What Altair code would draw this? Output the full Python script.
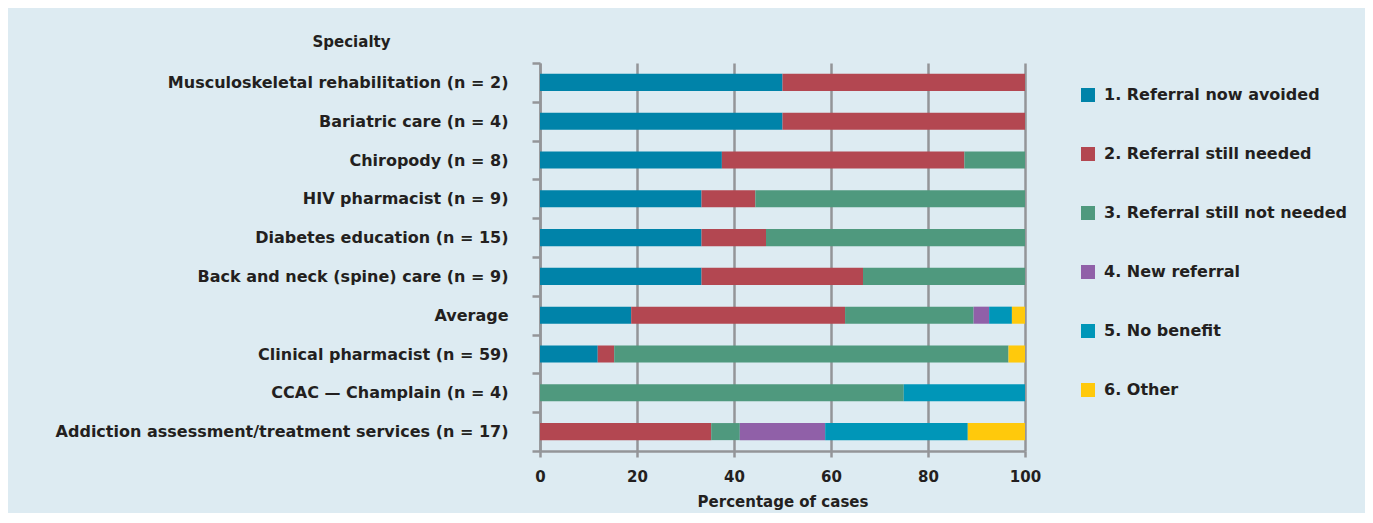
import altair as alt
import pandas as pd

specialties = [
    "Musculoskeletal rehabilitation (n = 2)",
    "Bariatric care (n = 4)",
    "Chiropody (n = 8)",
    "HIV pharmacist (n = 9)",
    "Diabetes education (n = 15)",
    "Back and neck (spine) care (n = 9)",
    "Average",
    "Clinical pharmacist (n = 59)",
    "CCAC \u2014 Champlain (n = 4)",
    "Addiction assessment/treatment services (n = 17)",
]
outcomes = [
    "1. Referral now avoided",
    "2. Referral still needed",
    "3. Referral still not needed",
    "4. New referral",
    "5. No benefit",
    "6. Other",
]
colors = ["#0083a9", "#b34751", "#4f997e", "#9060a8", "#0096b8", "#ffc90c"]

referral_avoided = [50, 50, 37.5, 33.3, 33.3, 33.3, 18.8, 11.9, 0, 0]
still_needed = [50, 50, 50, 11.1, 13.3, 33.3, 44.1, 3.4, 0, 35.3]
still_not_needed = [0, 0, 12.5, 55.6, 53.4, 33.4, 26.5, 81.3, 75, 5.9]
new_referral = [0, 0, 0, 0, 0, 0, 3.2, 0, 0, 17.6]
no_benefit = [0, 0, 0, 0, 0, 0, 4.7, 0, 25, 29.4]
other = [0, 0, 0, 0, 0, 0, 2.7, 3.4, 0, 11.8]

series = [referral_avoided, still_needed, still_not_needed, new_referral, no_benefit, other]

rows = []
for k, (name, vals) in enumerate(zip(outcomes, series)):
    for s, v in zip(specialties, vals):
        if v > 0:
            rows.append({"Specialty": s, "Outcome": name, "Percent": v, "order": k})
df = pd.DataFrame(rows)

FONT = "DejaVu Sans"
TXT = "#231f20"
GRID = "#939598"

chart = alt.Chart(df).mark_bar(height={"band": 0.44}).encode(
    y=alt.Y("Specialty:N", sort=specialties,
            scale=alt.Scale(paddingInner=0, paddingOuter=0),
            axis=alt.Axis(title="Specialty", titleAngle=0, titleX=-189, titleY=-14,
                          titleAlign="center", titleFontSize=15, titleFontWeight="bold",
                          titleColor=TXT, titleFont=FONT,
                          labelFont=FONT, labelFontSize=16, labelFontWeight="bold",
                          labelColor=TXT, labelPadding=24, labelLimit=600,
                          tickBand="extent", tickSize=8, tickWidth=2.5, tickColor=GRID,
                          domainColor=GRID, domainWidth=2.5)),
    x=alt.X("Percent:Q", stack="zero", scale=alt.Scale(domain=[0, 100], nice=False),
            axis=alt.Axis(title="Percentage of cases", values=[0, 20, 40, 60, 80, 100],
                          titleFont=FONT, titleFontSize=15, titleFontWeight="bold",
                          titleColor=TXT, titlePadding=10,
                          labelFont=FONT, labelFontSize=15, labelFontWeight="bold",
                          labelColor=TXT, labelPadding=12, labelFlush=False,
                          grid=True, gridColor=GRID, gridWidth=2.5,
                          tickSize=6, tickWidth=2.5, tickColor=GRID,
                          domainColor=GRID, domainWidth=2.5)),
    color=alt.Color("Outcome:N", sort=outcomes,
                    scale=alt.Scale(domain=outcomes, range=colors),
                    legend=alt.Legend(title=None, orient="none", legendX=540, legendY=24,
                                      symbolType="square", symbolSize=196,
                                      symbolStrokeWidth=0, symbolOpacity=1,
                                      labelFont=FONT, labelFontSize=16,
                                      labelFontWeight="bold", labelColor=TXT,
                                      labelOffset=8, rowPadding=43, labelLimit=400)),
    order=alt.Order("order:Q"),
).properties(
    width=485, height=388,
    autosize=alt.AutoSizeParams(type="none"),
    padding={"left": 532, "top": 55, "right": 340, "bottom": 62},
).configure(
    background="#ddebf2",
).configure_view(stroke=None)

chart.save("out.html", embed_options={"renderer": "svg", "actions": False})
